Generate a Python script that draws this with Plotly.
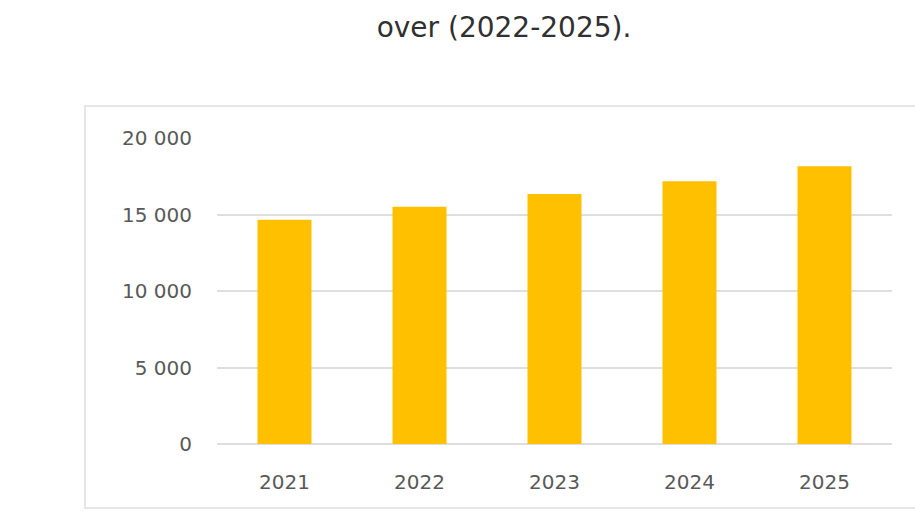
import plotly.graph_objects as go

years = ["2021", "2022", "2023", "2024", "2025"]
values = [14660, 15500, 16340, 17170, 18150]
y_ticks = [0, 5000, 10000, 15000, 20000]
y_tick_labels = ["0", "5 000", "10 000", "15 000", "20 000"]
title_text = "over (2022-2025)."

W, H = 915, 516
L, R, T, B = 217, 892, 138, 444  # plot area in pixels

def px_x(x):
    return (x - L) / (R - L)

def px_y(y):
    return (B - y) / (B - T)

fig = go.Figure(
    go.Bar(
        x=years,
        y=values,
        marker=dict(color="#FFC000", line=dict(width=0)),
        width=0.4,
    )
)

fig.update_layout(
    width=W,
    height=H,
    margin=dict(l=L, r=W - R, t=T, b=H - B, pad=0),
    paper_bgcolor="white",
    plot_bgcolor="white",
    showlegend=False,
    font=dict(family="DejaVu Sans", color="#595959"),
    title=dict(
        text=title_text,
        xref="container",
        yref="container",
        x=504 / W,
        y=1 - 27 / H,
        xanchor="center",
        yanchor="middle",
        font=dict(family="DejaVu Sans", size=28, color="#303030"),
    ),
    bargap=0.6,
)

fig.update_xaxes(
    showgrid=False,
    showline=False,
    zeroline=False,
    ticks="",
    tickfont=dict(size=20, color="#595959"),
    ticklabelstandoff=24,
)

fig.update_yaxes(
    range=[0, 20000],
    tickvals=y_ticks,
    ticktext=y_tick_labels,
    showgrid=True,
    gridcolor="#DEDEDE",
    gridwidth=1.5,
    zeroline=True,
    zerolinecolor="#DEDEDE",
    zerolinewidth=1.5,
    showline=False,
    ticks="",
    tickfont=dict(size=20, color="#595959"),
    ticklabelstandoff=24,
)

# chart-area border (extends past the right edge of the window)
fig.add_shape(
    type="rect",
    xref="paper",
    yref="paper",
    x0=px_x(85),
    x1=px_x(960),
    y0=px_y(508),
    y1=px_y(106),
    line=dict(color="#DEDEDE", width=1.5),
    fillcolor="rgba(0,0,0,0)",
    layer="below",
)

fig.write_html("out.html")
